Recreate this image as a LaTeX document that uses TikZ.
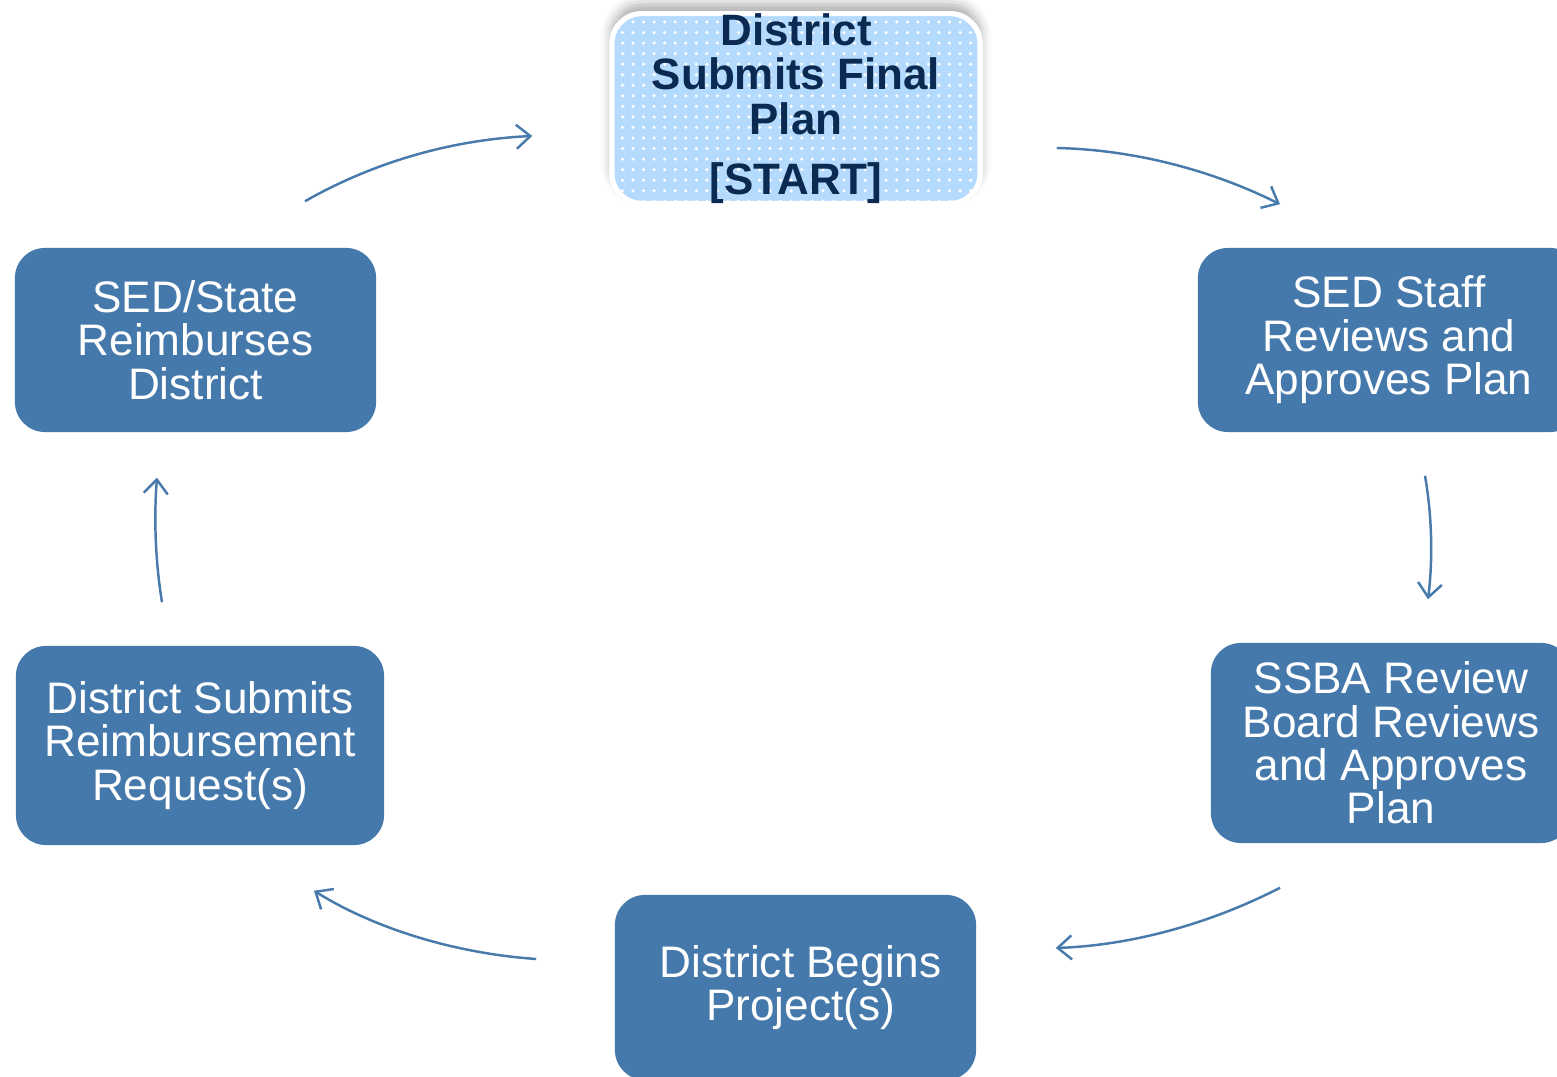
\documentclass[tikz,border=0pt]{standalone}
\usepackage{fontspec}
\setmainfont{Liberation Sans}
\usetikzlibrary{arrows.meta,shadows.blur,patterns}
\definecolor{boxblue}{RGB}{70,121,171}
\definecolor{startfill}{RGB}{180,218,253}
\definecolor{navy}{RGB}{10,42,82}
\definecolor{arrblue}{RGB}{72,122,172}
\begin{document}
\begin{tikzpicture}[x=0.01cm,y=-0.01cm,
  stepbox/.style={fill=boxblue, rounded corners=0.3cm, text=white, align=center,
    font=\fontsize{12.55pt}{12.35pt}\selectfont, inner sep=0pt},
  startbox/.style={blur shadow={shadow xshift=0pt, shadow yshift=2.5pt, shadow blur radius=3pt, shadow opacity=35},
    preaction={fill=startfill}, pattern=dots, pattern color=white, draw=white, line width=1.5pt,
    rounded corners=0.3cm, text=navy, align=center, inner sep=0pt,
    font=\bfseries\fontsize{12.5pt}{12.65pt}\selectfont},
  arr/.style={draw=arrblue, line width=0.7pt, -{Straight Barb[length=0.14cm,width=0.24cm]}}]
\useasboundingbox (0,0) rectangle (1557,1077);
\clip (0,0) rectangle (1557,1077);

\node[startbox, minimum width=3.68cm, minimum height=1.89cm] (start) at (796,108.5)
  {District\\Submits Final\\Plan\\[4.4pt]{[START]}};
\node[stepbox, minimum width=3.82cm, minimum height=1.84cm] (staff) at (1389,340)
  {SED Staff\\Reviews and\\Approves Plan};
\node[stepbox, minimum width=3.60cm, minimum height=2.00cm] (ssba) at (1391,743)
  {SSBA Review\\Board Reviews\\and Approves\\Plan};
\node[stepbox, minimum width=3.61cm, minimum height=1.85cm] (begins) at (795.5,987.5)
  {\hspace*{0.1cm}District Begins\\\hspace*{0.1cm}Project(s)};
\node[stepbox, minimum width=3.68cm, minimum height=1.99cm] (reimb) at (200,745.5)
  {District Submits\\Reimbursement\\Request(s)};
\node[stepbox, minimum width=3.61cm, minimum height=1.84cm] (state) at (195.5,340)
  {SED/State\\Reimburses\\District};

\coordinate (a1s) at ([shift={(109.5,-46)}]state.north);
\coordinate (a1e) at ([shift={(-77,27.5)}]start.west);
\coordinate (a2s) at ([shift={(74,39.5)}]start.east);
\coordinate (a2e) at ([shift={(-109,-43)}]staff.north);
\coordinate (a3s) at ([shift={(36,43)}]staff.south);
\coordinate (a3e) at ([shift={(37,-43)}]ssba.north);
\coordinate (a4s) at ([shift={(-111,44)}]ssba.south);
\coordinate (a4e) at ([shift={(79,-39.5)}]begins.east);
\coordinate (a5s) at ([shift={(-78,-28.5)}]begins.west);
\coordinate (a5e) at ([shift={(114,45)}]reimb.south);
\coordinate (a6s) at ([shift={(-38,-43)}]reimb.north);
\coordinate (a6e) at ([shift={(-38.5,45)}]state.south);

\draw[arr] (a1s) .. controls ([shift={(65,-37)}]a1s) and ([shift={(-85,4)}]a1e) .. (a1e);
\draw[arr] (a2s) .. controls ([shift={(86,2)}]a2s) and ([shift={(-60,-30)}]a2e) .. (a2e);
\draw[arr] (a3s) .. controls ([shift={(7,40)}]a3s) and ([shift={(5,-40)}]a3e) .. (a3e);
\draw[arr] (a4s) .. controls ([shift={(-60,31)}]a4s) and ([shift={(85,-3)}]a4e) .. (a4e);
\draw[arr] (a5s) .. controls ([shift={(-87,-6)}]a5s) and ([shift={(56,35)}]a5e) .. (a5e);
\draw[arr] (a6s) .. controls ([shift={(-7,-43)}]a6s) and ([shift={(-3,38)}]a6e) .. (a6e);
\end{tikzpicture}
\end{document}
